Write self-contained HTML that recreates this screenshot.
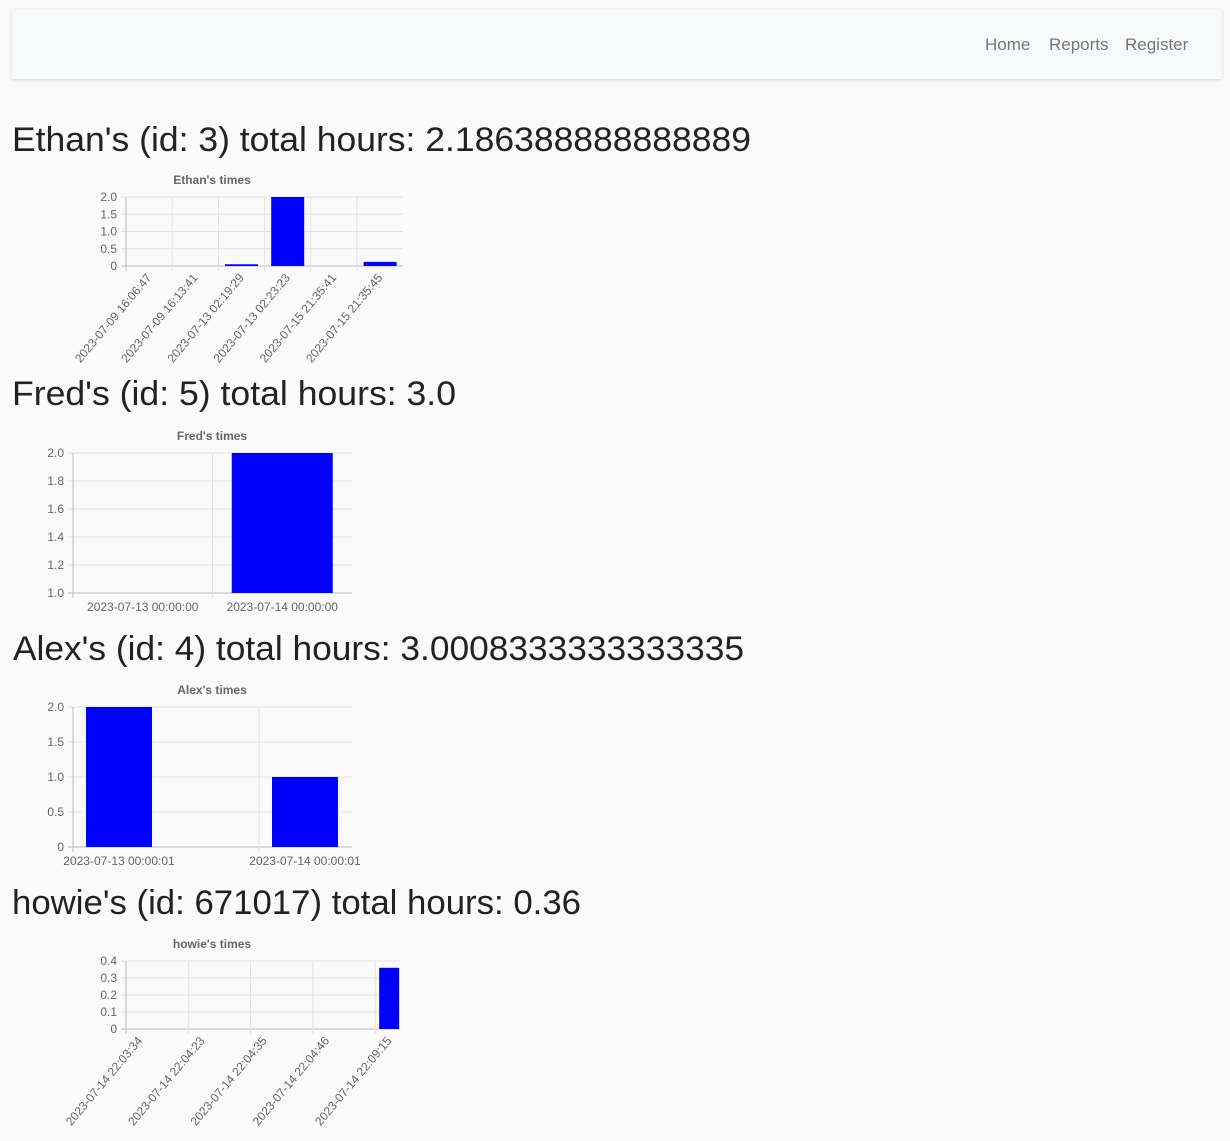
<!DOCTYPE html>
<html><head><meta charset="utf-8">
<style>
body{margin:0;background:#fafafa;width:1230px;height:1141px;overflow:hidden;font-family:"Liberation Sans",Arial,sans-serif;}
#nav{position:absolute;left:12px;top:9px;width:1210px;height:70px;background:#f8f9fa;box-shadow:0 1px 3px rgba(0,0,0,0.15);}
#nav a{position:absolute;top:26px;font-size:17px;color:#777;text-decoration:none;}
svg{position:absolute;left:0;top:0;}
</style></head><body>
<div id="nav">
<a style="left:973px">Home</a>
<a style="left:1037px">Reports</a>
<a style="left:1113px">Register</a>
</div>
<svg id="s" width="1230" height="1141">
<text x="12" y="151" font-size="34" fill="#222" textLength="739" lengthAdjust="spacingAndGlyphs">Ethan's (id: 3) total hours: 2.186388888888889</text>
<text x="12" y="405" font-size="34" fill="#222" textLength="444" lengthAdjust="spacingAndGlyphs">Fred's (id: 5) total hours: 3.0</text>
<text x="13" y="660" font-size="34" fill="#222" textLength="731" lengthAdjust="spacingAndGlyphs">Alex's (id: 4) total hours: 3.0008333333333335</text>
<text x="12" y="914" font-size="34" fill="#222" textLength="569" lengthAdjust="spacingAndGlyphs">howie's (id: 671017) total hours: 0.36</text>
</svg>
<script>
const ethanLabels=["2023-07-09 16:06:47","2023-07-09 16:13:41","2023-07-13 02:19:29","2023-07-13 02:23:23","2023-07-15 21:35:41","2023-07-15 21:35:45"];
const ethanValues=[0,0,0.05,2.0,0,0.12];
const ethanTicks=[0,0.5,1,1.5,2];
const ethanTickLabels=["0","0.5","1.0","1.5","2.0"];
const fredLabels=["2023-07-13 00:00:00","2023-07-14 00:00:00"];
const fredValues=[1.0,2.0];
const fredTicks=[1.0,1.2,1.4,1.6,1.8,2.0];
const fredTickLabels=["1.0","1.2","1.4","1.6","1.8","2.0"];
const alexLabels=["2023-07-13 00:00:01","2023-07-14 00:00:01"];
const alexValues=[2.0,1.0];
const alexTicks=[0,0.5,1,1.5,2];
const alexTickLabels=["0","0.5","1.0","1.5","2.0"];
const howieLabels=["2023-07-14 22:03:34","2023-07-14 22:04:23","2023-07-14 22:04:35","2023-07-14 22:04:46","2023-07-14 22:09:15"];
const howieValues=[0,0,0,0,0.36];
const howieTicks=[0,0.1,0.2,0.3,0.4];
const howieTickLabels=["0","0.1","0.2","0.3","0.4"];

const NS="http://www.w3.org/2000/svg";
const svg=document.getElementById('s');
function mk(tag,attrs,parent){const e=document.createElementNS(NS,tag);for(const k in attrs)e.setAttribute(k,attrs[k]);(parent||svg).appendChild(e);return e;}

function chart(name,title,labels,values,ticks,tickLabels,cfg){
  const g=mk('g',{});
  
  
  const yMin=ticks[0],yMax=ticks[ticks.length-1];
  const y=v=>cfg.bottom-(Math.max(v,yMin)-yMin)/(yMax-yMin)*(cfg.bottom-cfg.top);
  const tickX=i=>cfg.t0+i*cfg.step;
  const cx=i=>tickX(i)+cfg.off;
  const t=mk('text',{x:212,y:cfg.top-13,'font-size':12,'font-weight':'bold',fill:'#666','text-anchor':'middle'},g);
  t.textContent=title;
  
  
  ticks.forEach((v,i)=>{
    const yy=y(v);
    mk('line',{x1:cfg.left-5,x2:cfg.right,y1:yy,y2:yy,stroke:i==0?'#bbb':'#e2e2e2','stroke-width':1},g);
    const tl=mk('text',{x:cfg.left-9,y:yy+4,'font-size':12,fill:'#666','text-anchor':'end'},g);
    tl.textContent=tickLabels[i];
    
    
  });
  labels.forEach((l,i)=>{
    const x=tickX(i);
    mk('line',{x1:x,x2:x,y1:cfg.top,y2:cfg.bottom+5,stroke:i==0?'#bbb':'#e2e2e2','stroke-width':1},g);
    let tl;
    if(cfg.rot){
      tl=mk('text',{x:cx(i)+3,y:cfg.bottom+12,'font-size':12,fill:'#666','text-anchor':'end',transform:`rotate(-50 ${cx(i)+3} ${cfg.bottom+12})`},g);
    }else{
      tl=mk('text',{x:cx(i),y:cfg.bottom+18,'font-size':12,fill:'#666','text-anchor':'middle'},g);
    }
    tl.textContent=l;
    
    
  });
  values.forEach((v,i)=>{
    const yy=y(v);
    if(cfg.bottom-yy<=0)return;
    let x0=cx(i)-cfg.bw/2,x1=Math.min(cx(i)+cfg.bw/2,cfg.right);
    const r=mk('rect',{x:x0,y:yy,width:x1-x0,height:cfg.bottom-yy,fill:'#0000ff'},g);
    
    
  });
}
chart('ethan',"Ethan's times",ethanLabels,ethanValues,ethanTicks,ethanTickLabels,{left:126,right:403,top:197,bottom:266,t0:126,step:46.2,off:23.1,bw:33,rot:true});
chart('fred',"Fred's times",fredLabels,fredValues,fredTicks,fredTickLabels,{left:73,right:352,top:453,bottom:593,t0:73,step:139.5,off:69.75,bw:101,rot:false});
chart('alex',"Alex's times",alexLabels,alexValues,alexTicks,alexTickLabels,{left:73,right:352,top:707,bottom:847,t0:73,step:186,off:46,bw:66,rot:false});
chart('howie',"howie's times",howieLabels,howieValues,howieTicks,howieTickLabels,{left:126,right:400,top:961,bottom:1029,t0:126,step:62.3,off:14,bw:20,rot:true});
</script>
</body></html>
